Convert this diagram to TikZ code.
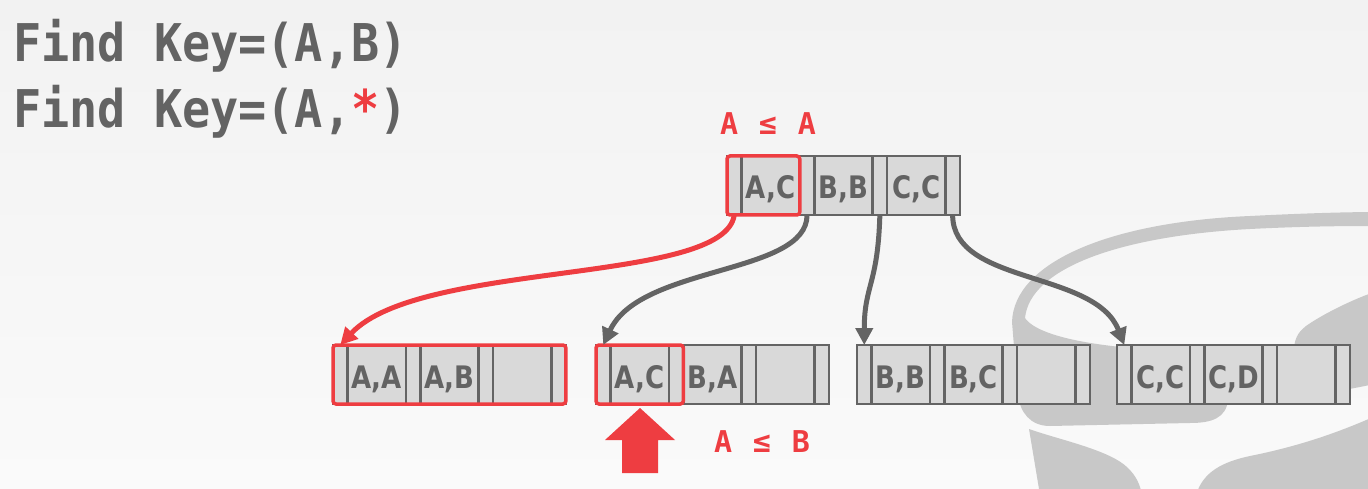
\documentclass[tikz,border=0pt]{standalone}
\usepackage{fontspec}
\usetikzlibrary{arrows,arrows.meta,positioning,fit}
\definecolor{hired}{RGB}{238,61,65}
\definecolor{linegray}{RGB}{100,100,100}
\definecolor{cellgray}{RGB}{217,217,217}
\definecolor{textgray}{RGB}{99,99,99}
\definecolor{dbgray}{RGB}{200,200,200}
\definecolor{bgtop}{RGB}{242,242,242}
\definecolor{bgbottom}{RGB}{250,250,250}
\newfontfamily\codefont[FakeStretch=0.9]{DejaVu Sans Mono}
\newfontfamily\keyfont[FakeStretch=0.84]{DejaVu Sans}
\newfontfamily\cmpfont[LetterSpace=9]{DejaVu Sans Mono}
% one row of a b+tree node: name, position of first pointer cell, three keys
\newcommand{\btrow}[5]{%
  \node[ptrcell] (#1p0) at #2 {};
  \node[keycell, right=0pt of #1p0] (#1k1) {#3};
  \node[ptrcell, right=0pt of #1k1] (#1p1) {};
  \node[keycell, right=0pt of #1p1] (#1k2) {#4};
  \node[ptrcell, right=0pt of #1k2] (#1p2) {};
  \node[keycell, right=0pt of #1p2] (#1k3) {#5};
  \node[ptrcell, right=0pt of #1k3] (#1p3) {};
}

\begin{document}
\begin{tikzpicture}[x=1pt,y=-1pt]
	\tikzstyle{ptrcell} = [draw=linegray, fill=cellgray, line width=2.5pt, minimum width=14.5pt, minimum height=59pt, inner sep=0pt, outer sep=0pt]
	\tikzstyle{keycell} = [ptrcell, minimum width=58.3pt, text=textgray, font=\keyfont\bfseries\fontsize{31}{36}\selectfont, text height=27pt, text depth=0pt]
	\tikzstyle{hilite} = [draw=hired, line width=3.5pt, rounded corners=3pt, inner sep=0pt]
	\tikzstyle{link} = [-{Triangle[length=17pt,width=17pt]}, linegray, line width=5pt]
	\tikzstyle{cmp} = [hired, font=\cmpfont\bfseries\fontsize{30}{36}\selectfont, inner sep=0pt]
	\tikzstyle{titletext} = [textgray, font=\codefont\bfseries\fontsize{52}{60}\selectfont, inner sep=0pt]

	\useasboundingbox (0,0) rectangle (1368,489);
	\shade[top color=bgtop, bottom color=bgbottom] (0,0) rectangle (1368,489);

	% database drum behind the leaves
	\begin{scope}
		\clip (0,0) rectangle (1368,489);
		\fill[dbgray] (1012,322) .. controls (1014,262) and (1110,222) .. (1250,216) .. controls (1310,213) and (1350,212) .. (1380,212) -- (1380,226) .. controls (1350,226) and (1310,226) .. (1250,229) .. controls (1120,236) and (1030,268) .. (1025,318) .. controls (1040,340) and (1120,352) .. (1232,352) -- (1228,400) .. controls (1226,418) and (1212,423) .. (1190,423) -- (1050,426) .. controls (1030,426) and (1020,412) .. (1018,395) -- cycle;
		\fill[dbgray] (1380,290) .. controls (1350,300) and (1320,316) .. (1306,326) .. controls (1297,333) and (1294,340) .. (1294,352) -- (1294,400) -- (1380,383) -- cycle;
		\fill[dbgray] (1029,429) .. controls (1060,440) and (1110,450) .. (1128,468) .. controls (1136,476) and (1140,484) .. (1142,495) -- (1040,495) -- cycle;
		\fill[dbgray] (1196,495) .. controls (1203,472) and (1222,462) .. (1250,456) .. controls (1300,446) and (1340,432) .. (1380,414) -- (1380,495) -- cycle;
	\end{scope}

	\node[titletext, anchor=base west] (find1) at (13,62) {Find Key=(A,B)};
	\node[titletext, anchor=base west] (find2) at (13,128) {Find Key=(A,\textcolor{hired}{*})};

	\btrow{r}{(734.25,185.5)}{A,C}{B,B}{C,C}
	\btrow{la}{(340.25,374.5)}{A,A}{A,B}{}
	\btrow{lb}{(603.25,374.5)}{A,C}{B,A}{}
	\btrow{lc}{(864.25,374.5)}{B,B}{B,C}{}
	\btrow{ld}{(1124.25,374.5)}{C,C}{C,D}{}

	\node[hilite, fit=(rp0)(rk1)] (rhl) {};
	\node[hilite, fit=(lap0)(lap3)] (lahl) {};
	\node[hilite, fit=(lbp0)(lbp1)] (lbhl) {};

	\draw[link, hired] (rp0.south) .. controls +(-10,70) and +(80,-85) .. (lap0.north);
	\draw[link] (rp1.south) .. controls +(0,60) and +(37,-80) .. (lbp0.north);
	\draw[link] (rp2.south) .. controls +(-2,70) and +(0,-60) .. (lcp0.north);
	\draw[link] (rp3.south) .. controls +(0,70) and +(-29,-75) .. (ldp0.north);

	\node[cmp, anchor=base] (cmproot) at (768,135) {A ≤ A};
	\node[cmp, anchor=base] (cmpleaf) at (762,452) {A ≤ B};

	\coordinate (scan) at (640,408);
	\fill[hired] (scan) -- ++(35,32) -- ++(-17,0) -- ++(0,33) -- ++(-36,0) -- ++(0,-33) -- ++(-17,0) -- cycle;
\end{tikzpicture}
\end{document}
